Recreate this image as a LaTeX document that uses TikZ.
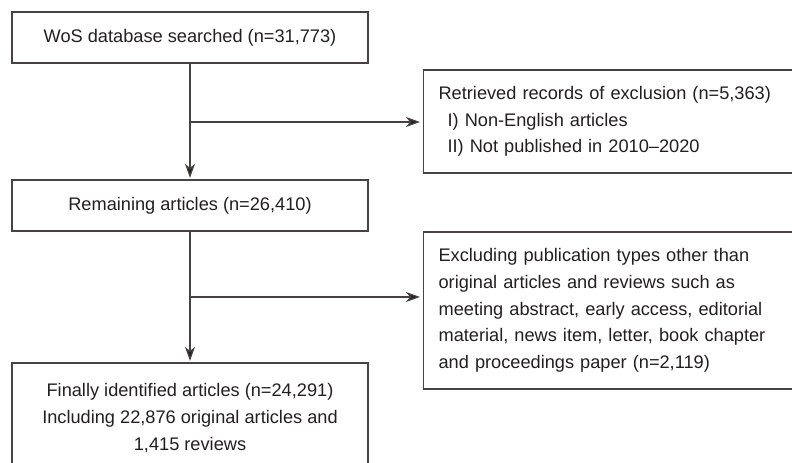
\documentclass[tikz,border=0pt]{standalone}
\usepackage{fontspec}
\setmainfont{Liberation Sans}
\usetikzlibrary{arrows.meta,calc}
\definecolor{txt}{RGB}{35,31,32}
\definecolor{edge}{RGB}{72,66,66}
\tikzset{
  box/.style={draw=edge, line width=1.2bp, text=txt, inner sep=0pt,
    font=\fontsize{18.2bp}{26.7bp}\selectfont},
  cbox/.style={box, align=center},
  lbox/.style={box, align=left, text width=350bp, inner xsep=15bp, minimum width=380bp},
  arr/.style={draw=edge, line width=1.2bp, -{Stealth[length=14bp,width=10bp,inset=4bp,fill=txt]}},
}
\begin{document}
\begin{tikzpicture}[x=1bp,y=-1bp]
\useasboundingbox (0,0) rectangle (792,463);
\clip (0,0) rectangle (792,463);
\node[cbox, minimum width=356bp, minimum height=51bp] (b1) at (190,37.5) {WoS database searched (n=31,773)};
\node[cbox, minimum width=356bp, minimum height=51bp] (b2) at (190,205.5) {Remaining articles (n=26,410)};
\node[cbox, minimum width=356bp, minimum height=110bp] (b3) at (190,418) {Finally identified articles (n=24,291)\\Including 22,876 original articles and\\1,415 reviews};
\node[lbox, minimum height=103bp, anchor=west] (r1) at (423,121.5) {Retrieved records of exclusion (n=5,363)\\\hspace*{9bp}I) Non-English articles\\\hspace*{9bp}II) Not published in 2010--2020};
\node[lbox, minimum height=157bp, anchor=west] (r2) at (423,310.5) {Excluding publication types other than\\original articles and reviews such as\\meeting abstract, early access, editorial\\material, news item, letter, book chapter\\and proceedings paper (n=2,119)};
\coordinate (j1) at (190,122);
\coordinate (j2) at (190,297);
\draw[arr, shorten >=1.5bp] (b1) -- (b2);
\draw[arr, shorten >=1.5bp] (b2) -- (b3);
\draw[arr, shorten >=3bp] (j1) -- (j1 -| r1.west);
\draw[arr, shorten >=3bp] (j2) -- (j2 -| r2.west);
\end{tikzpicture}
\end{document}
